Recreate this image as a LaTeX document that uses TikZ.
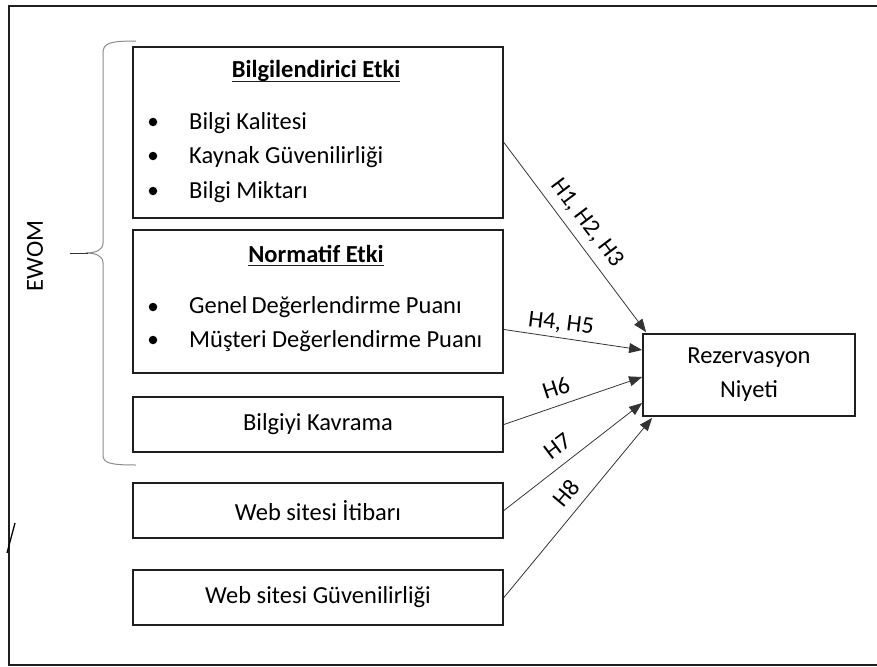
\documentclass[tikz,border=0pt]{standalone}
\usepackage{fontspec}
\setmainfont{Carlito}
\usetikzlibrary{arrows.meta,calc}
\begin{document}
\begin{tikzpicture}[x=1pt,y=-1pt,
  box/.style={draw=black!88, line width=1.8pt, minimum width=370pt, inner sep=0pt, font=\fontsize{24.5}{34}\selectfont},
  txt/.style={font=\fontsize{24.5}{29}\selectfont, inner sep=0pt},
  ttl/.style={font=\fontsize{24.5}{29}\selectfont\bfseries, inner sep=0pt},
  conn/.style={draw=black!80, line width=0.8pt, -{Triangle[length=13pt,width=10pt]}},
  lbl/.style={font=\fontsize{24}{29}\selectfont, inner sep=0pt},
  bracestyle/.style={draw=black!45, line width=1pt},
  dot/.style={circle, fill=black, draw=none, inner sep=0pt, minimum size=8.5pt},
  uline/.style={draw=black!88, line width=1.2pt}
]
\useasboundingbox (0,0) rectangle (877,666);
% outer frame (right side not shown)
\draw[draw=black!88, line width=2pt] (877,6) -- (9,6) -- (9,665) -- (877,665);
\draw[black, line width=1.3pt] (7,553) -- (15,523);

% boxes
\node[box, minimum height=171pt] (b1) at (318,132.5) {};
\node[box, minimum height=143pt] (b2) at (318,301.5) {};
\node[box, minimum height=55pt] (b3) at (318,424.5) {Bilgiyi Kavrama};
\node[box, minimum height=55pt] (b4) at (318,510.5) {Web sitesi İtibarı};
\node[box, minimum height=55pt] (b5) at (318,597.5) {Web sitesi Güvenilirliği};
\node[box, minimum width=212pt, minimum height=82pt, align=center] (rz) at (749,375) {Rezervasyon\\Niyeti};

% box 1 content
\node[ttl, anchor=base] (t1) at (316,78) {Bilgilendirici Etki};
\draw[uline] ($(t1.base west)+(0,3.5)$) -- ($(t1.base east)+(0,3.5)$);
\node[dot] (d11) at (153,122) {};
\node[dot] (d12) at (153,156) {};
\node[dot] (d13) at (153,191) {};
\node[txt, anchor=base west] (i11) at (189,129) {Bilgi Kalitesi};
\node[txt, anchor=base west] (i12) at (189,163) {Kaynak Güvenilirliği};
\node[txt, anchor=base west] (i13) at (189,198) {Bilgi Miktarı};

% box 2 content
\node[ttl, anchor=base] (t2) at (316,262) {Normatif Etki};
\draw[uline] ($(t2.base west)+(0,3.5)$) -- ($(t2.base east)+(0,3.5)$);
\node[dot] (d21) at (153,307) {};
\node[dot] (d22) at (153,340) {};
\node[txt, anchor=base west] (i21) at (189,313) {Genel\,Değerlendirme Puanı};
\node[txt, anchor=base west] (i22) at (189,347) {Müşteri Değerlendirme Puanı};

% brace and EWOM
\draw[bracestyle] (136,41) .. controls (110,41) and (103,43) .. (103,53) -- (103,243)
  .. controls (103,250) and (96,253) .. (86,253);
\draw[bracestyle] (86,253) .. controls (96,253) and (103,256) .. (103,263) -- (103,455)
  .. controls (103,463) and (110,465) .. (136,465);
\draw[draw=black!80, line width=1pt] (70,253) -- (88,253);
\node[txt, rotate=90] (ewom) at (35,256) {EWOM};

% connectors
\draw[conn] ($(b1.east)+(0,10)$) -- ($(rz.north west)+(4,-1)$);
\draw[conn] ($(b2.east)+(0,28)$) -- ($(rz.west)+(0,-25)$);
\draw[conn] (b3.east) -- ($(rz.west)+(0,2)$);
\draw[conn] (b4.east) -- ($(rz.west)+(0,28)$);
\draw[conn] (b5.east) -- ($(rz.south west)+(10,1)$);

% labels
\node[lbl, rotate=-53] (l1) at (587,223) {H1, H2, H3};
\node[lbl, rotate=-7] (l2) at (561,324) {H4, H5};
\node[lbl, rotate=18] (l3) at (556,388) {H6};
\node[lbl, rotate=37] (l4) at (558,446) {H7};
\node[lbl, rotate=50] (l5) at (566,493) {H8};
\end{tikzpicture}
\end{document}
